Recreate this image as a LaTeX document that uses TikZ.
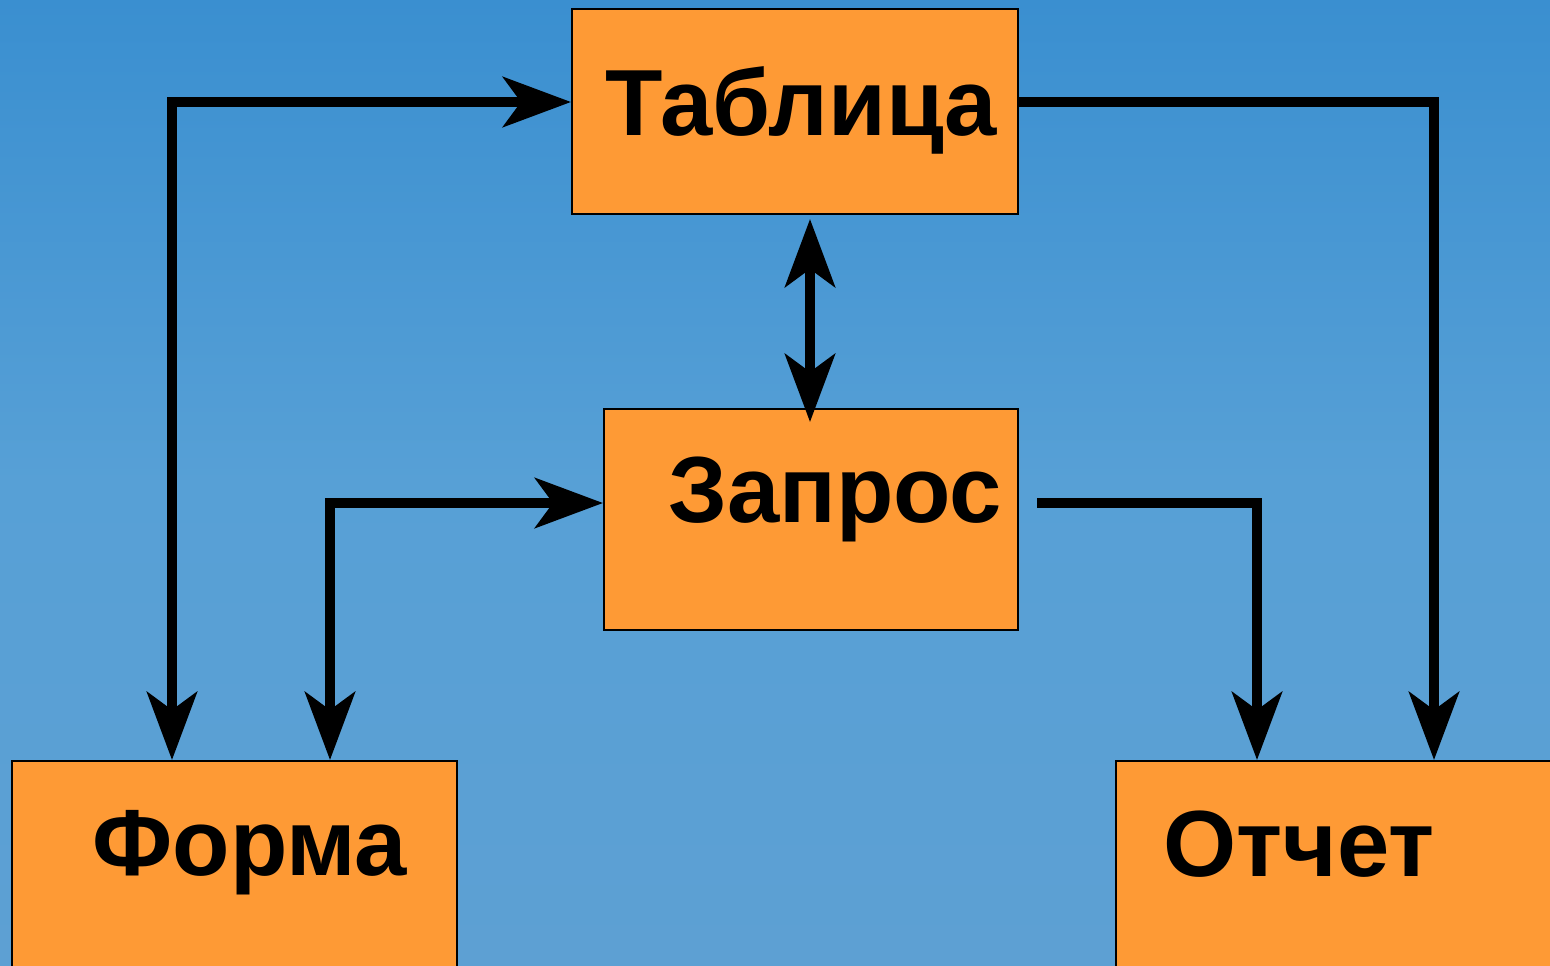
\documentclass[tikz,border=0pt]{standalone}
\usepackage{fontspec}
\setmainfont{Liberation Sans}
\usetikzlibrary{arrows.meta}
\definecolor{boxfill}{HTML}{FE9A35}
\definecolor{skytop}{HTML}{3A8FD0}
\definecolor{skymid}{HTML}{57A0D6}
\definecolor{skylow}{HTML}{5DA0D3}
\tikzset{
  block/.style={draw=black, line width=1pt, fill=boxfill, inner sep=0pt, anchor=north west},
  caption/.style={font=\bfseries\fontsize{47}{47}\selectfont, anchor=base west, inner sep=0pt},
  tip/.tip={Stealth[length=34pt, width=25pt, inset=9pt]},
  link/.style={line width=5pt, line cap=butt, -tip},
  link2/.style={line width=5pt, tip-tip}
}
\begin{document}
\begin{tikzpicture}[x=0.5pt, y=-0.5pt]
  \useasboundingbox (0,0) rectangle (1550,965);
  \clip (0,0) rectangle (1550,965);
  % sky background
  \shade[top color=skytop, bottom color=skylow, middle color=skymid] (0,0) rectangle (1550,965);

  % boxes
  \node[block, minimum width=223pt, minimum height=102.5pt] (tab) at (571,8) {};
  \node[block, minimum width=207pt, minimum height=110.5pt] (zap) at (603,408) {};
  \node[block, minimum width=222.5pt, minimum height=115pt] (form) at (11,760) {};
  \node[block, minimum width=225pt, minimum height=115pt] (otch) at (1115,760) {};

  % labels
  \node[caption] (tabt) at (605,135) {Таблица};
  \node[caption] (zapt) at (668,522) {Запрос};
  \node[caption] (formt) at (92,875) {Форма};
  \node[caption] (otcht) at (1163,876) {Отчет};

  % corner points of the connectors
  \coordinate (cl) at (172,102);
  \coordinate (cr) at (1434,102);
  \coordinate (ml) at (330,503);
  \coordinate (mr) at (1257,503);
  \coordinate (mv) at (810,300);

  % connectors
  \draw[link2] (form.north -| cl) -- (cl) -- (tab.west |- cl);
  \draw[link] (tab.east |- cr) -- (cr) -- (otch.north -| cr);
  \draw[link2] ([yshift=-2pt]tab.south -| mv) -- ([yshift=-7pt]zap.north -| mv);
  \draw[link2] (form.north -| ml) -- (ml) -- (zap.west |- ml);
  \draw[link] ([xshift=9pt]zap.east |- mr) -- (mr) -- (otch.north -| mr);
\end{tikzpicture}
\end{document}
